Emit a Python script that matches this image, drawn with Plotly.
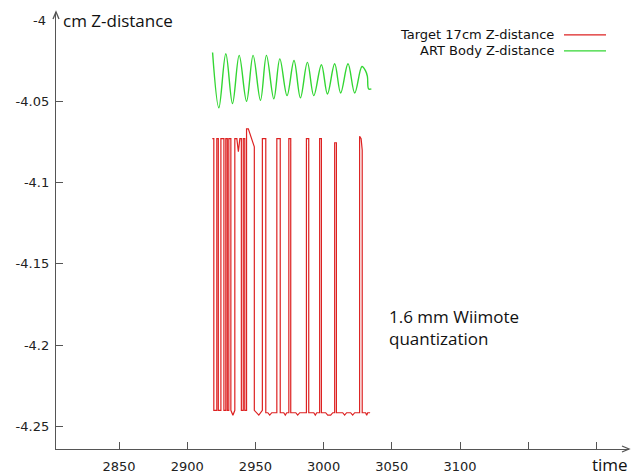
import plotly.graph_objects as go

# ---- data ----
art_time = [2918.6, 2923.2, 2928.3, 2933.2, 2938.1, 2943.5, 2948.3, 2953.7, 2958.1, 2963.5,
            2967.9, 2973.2, 2978.3, 2983.0, 2988.1, 2992.8, 2998.4, 3002.8, 3008.1, 3012.5,
            3017.9, 3022.8, 3028.1, 3030.6, 3032.1, 3033.0, 3035.0]
art_z = [-4.0200, -4.0540, -4.0208, -4.0514, -4.0218, -4.0500, -4.0218, -4.0494, -4.0218, -4.0485,
         -4.0239, -4.0465, -4.0249, -4.0479, -4.0261, -4.0465, -4.0275, -4.0455, -4.0269, -4.0449,
         -4.0269, -4.0449, -4.0286, -4.0310, -4.0347, -4.0424, -4.0424]

target_time = [2918.4, 2919.5, 2919.5, 2921.7, 2921.7, 2922.8, 2922.8, 2924.7, 2924.7, 2926.9,
               2926.9, 2928.3, 2928.3, 2929.4, 2929.4, 2930.5, 2930.5, 2932.0, 2932.0, 2933.5,
               2934.9, 2934.9, 2936.4, 2937.5, 2938.6, 2939.7, 2939.7, 2941.1, 2941.1, 2942.2,
               2942.2, 2943.5, 2943.5, 2944.8, 2949.2, 2949.2, 2952.5, 2955.1, 2955.1, 2957.6,
               2957.6, 2959.1, 2960.5, 2962.0, 2965.7, 2965.7, 2968.2, 2968.2, 2970.8, 2971.9,
               2973.0, 2974.5, 2974.5, 2975.9, 2975.9, 2979.6, 2981.0, 2982.5, 2987.4, 2987.4,
               2989.1, 2989.1, 2992.8, 2993.9, 2995.0, 2997.1, 2997.1, 2998.4, 2998.4, 3001.5,
               3003.0, 3005.2, 3006.7, 3008.1, 3008.1, 3009.4, 3009.4, 3014.0, 3015.4, 3016.9,
               3019.8, 3021.3, 3022.8, 3026.4, 3026.4, 3027.5, 3028.3, 3028.3, 3030.8, 3031.6,
               3032.3, 3034.1]
target_z = [-4.073, -4.073, -4.240, -4.240, -4.073, -4.073, -4.240, -4.240, -4.073, -4.073,
            -4.240, -4.240, -4.073, -4.073, -4.240, -4.240, -4.073, -4.073, -4.240, -4.243,
            -4.240, -4.073, -4.073, -4.081, -4.073, -4.073, -4.240, -4.240, -4.073, -4.073,
            -4.240, -4.240, -4.067, -4.067, -4.078, -4.240, -4.243, -4.240, -4.073, -4.073,
            -4.2415, -4.2415, -4.243, -4.2415, -4.2415, -4.073, -4.073, -4.2415, -4.2415, -4.243,
            -4.2415, -4.2415, -4.073, -4.073, -4.2415, -4.2415, -4.243, -4.2415, -4.2415, -4.073,
            -4.073, -4.2415, -4.2415, -4.243, -4.2415, -4.2415, -4.073, -4.073, -4.2415, -4.2415,
            -4.243, -4.243, -4.2415, -4.2415, -4.0755, -4.0755, -4.2415, -4.2415, -4.243, -4.2415,
            -4.2415, -4.243, -4.2415, -4.2415, -4.0715, -4.0730, -4.0800, -4.2415, -4.2415, -4.243,
            -4.2415, -4.2415]

x_tickvals = [2850, 2900, 2950, 3000, 3050, 3100, 3150, 3200]
x_ticktext = ["2850", "2900", "2950", "3000", "3050", "3100", "", ""]
y_tickvals = [-4.05, -4.1, -4.15, -4.2, -4.25]
y_ticktext = ["-4.05", "-4.1", "-4.15", "-4.2", "-4.25"]

series_names = ["Target 17cm Z-distance", "ART Body Z-distance"]
series_colors = ["#dd2222", "#33d633"]

# ---- figure ----
W, H = 631, 476
ml, mr, mt, mb = 56, 2, 12, 25
pw, ph = W - ml - mr, H - mt - mb


def px_x(x):
    return (x - ml) / pw


def px_y(y):
    return (H - mb - y) / ph


fig = go.Figure()
fig.add_trace(go.Scatter(x=target_time, y=target_z, mode="lines", name=series_names[0],
                         line=dict(color=series_colors[0], width=1.2), showlegend=False))
fig.add_trace(go.Scatter(x=art_time, y=art_z, mode="lines", name=series_names[1],
                         line=dict(color=series_colors[1], width=1.4, shape="spline", smoothing=1.0),
                         showlegend=False))

axis_col = "#555555"
tick_font = dict(family="DejaVu Sans", size=13, color="#222222")

fig.update_xaxes(range=[2803.8, 3223.9], tickvals=x_tickvals, ticktext=x_ticktext,
                 ticks="inside", ticklen=7, tickcolor=axis_col, tickwidth=1,
                 showline=True, linecolor=axis_col, linewidth=1.3, showgrid=False,
                 zeroline=False, tickfont=tick_font, ticklabelstandoff=5)
fig.update_yaxes(range=[-4.2638, -3.9951], tickvals=y_tickvals, ticktext=y_ticktext,
                 ticks="inside", ticklen=7, tickcolor=axis_col, tickwidth=1,
                 showline=True, linecolor=axis_col, linewidth=1.3, showgrid=False,
                 zeroline=False, tickfont=tick_font, ticklabelstandoff=3)

shapes = []
# arrowheads on axes
ax_w, ax_h = 3 / pw, 7 / ph
shapes.append(dict(type="path", xref="paper", yref="paper", layer="above",
                   path=f"M {-ax_w} {1 - ax_h} L 0 1 L {ax_w} {1 - ax_h}",
                   line=dict(color=axis_col, width=1.3)))
ah_w, ah_h = 7 / pw, 3 / ph
shapes.append(dict(type="path", xref="paper", yref="paper", layer="above",
                   path=f"M {1 - ah_w} {ah_h} L 1 0 L {1 - ah_w} {-ah_h}",
                   line=dict(color=axis_col, width=1.3)))
# legend samples
leg_y = [35, 51]
for i in range(2):
    shapes.append(dict(type="line", xref="paper", yref="paper",
                       x0=px_x(564), x1=px_x(606), y0=px_y(leg_y[i]), y1=px_y(leg_y[i]),
                       line=dict(color=series_colors[i], width=1.2)))

ann = []
lab_font = dict(family="Open Sans", size=17, color="#111111")
ann.append(dict(text="cm Z-distance", xref="paper", yref="paper", x=px_x(61), y=px_y(21),
                xanchor="left", yanchor="middle", showarrow=False, font=lab_font))
ann.append(dict(text="-4", xref="paper", yref="paper", x=px_x(48), y=px_y(21),
                xanchor="right", yanchor="middle", showarrow=False, font=tick_font))
ann.append(dict(text="time", xref="paper", yref="paper", x=px_x(610), y=px_y(467),
                xanchor="center", yanchor="middle", showarrow=False, font=lab_font))
ann.append(dict(text="1.6 mm Wiimote<br>quantization", xref="paper", yref="paper",
                x=px_x(387), y=px_y(329), xanchor="left", yanchor="middle", align="left",
                showarrow=False, font=lab_font))
for i in range(2):
    ann.append(dict(text=series_names[i], xref="paper", yref="paper", x=px_x(556), y=px_y(leg_y[i]),
                    xanchor="right", yanchor="middle", showarrow=False,
                    font=dict(family="DejaVu Sans", size=13, color="#111111")))

fig.update_layout(width=W, height=H, margin=dict(l=ml, r=mr, t=mt, b=mb),
                  plot_bgcolor="white", paper_bgcolor="white",
                  shapes=shapes, annotations=ann, showlegend=False)

fig.write_html("out.html", config={"displayModeBar": False},
               post_script="document.body.style.margin='0';document.body.style.padding='0';")
